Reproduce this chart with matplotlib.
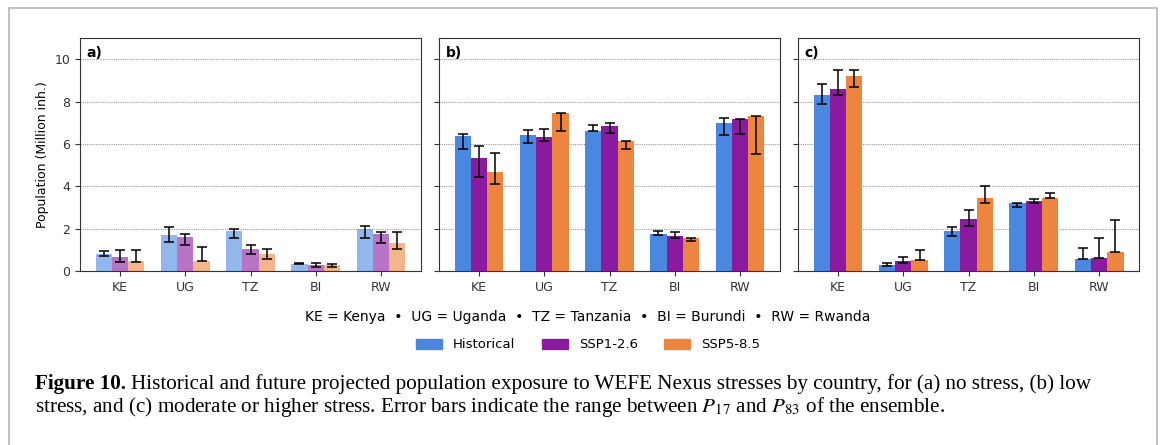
import numpy as np
import matplotlib.pyplot as plt
from matplotlib.patches import Rectangle, Patch

plt.rcParams['mathtext.fontset'] = 'stix'

countries = ["KE", "UG", "TZ", "BI", "RW"]
scenarios = ["Historical", "SSP1-2.6", "SSP5-8.5"]
colors = ["#4a87e0", "#8a1a9f", "#ec8540"]

# (a) no stress: value, P17, P83 per scenario
a_val = [[0.78, 1.72, 1.88, 0.35, 1.98],
         [0.66, 1.61, 1.06, 0.30, 1.77],
         [0.45, 0.45, 0.79, 0.27, 1.34]]
a_lo = [[0.71, 1.38, 1.58, 0.32, 1.58],
        [0.43, 1.22, 0.82, 0.19, 1.30],
        [0.43, 0.45, 0.59, 0.19, 1.06]]
a_hi = [[0.93, 2.09, 1.99, 0.40, 2.14],
        [1.01, 1.77, 1.25, 0.38, 1.85],
        [0.98, 1.14, 1.06, 0.35, 1.85]]

# (b) low stress
b_val = [[6.36, 6.41, 6.63, 1.74, 6.98],
         [5.33, 6.33, 6.84, 1.66, 7.17],
         [4.67, 7.44, 6.14, 1.55, 7.31]]
b_lo = [[5.76, 6.03, 6.63, 1.69, 6.41],
        [4.46, 6.16, 6.53, 1.55, 6.47],
        [4.10, 6.60, 5.78, 1.41, 5.54]]
b_hi = [[6.47, 6.66, 6.88, 1.88, 7.20],
        [5.92, 6.71, 7.01, 1.85, 7.17],
        [5.57, 7.44, 6.14, 1.58, 7.33]]

# (c) moderate or higher stress
c_val = [[8.31, 0.27, 1.90, 3.20, 0.57],
         [8.61, 0.47, 2.47, 3.31, 0.62],
         [9.21, 0.51, 3.45, 3.43, 0.89]]
c_lo = [[7.90, 0.25, 1.65, 3.01, 0.57],
        [8.29, 0.40, 2.14, 3.20, 0.62],
        [8.69, 0.51, 3.20, 3.43, 0.89]]
c_hi = [[8.84, 0.36, 2.10, 3.23, 1.09],
        [9.48, 0.65, 2.90, 3.39, 1.57],
        [9.49, 0.97, 4.03, 3.66, 2.42]]

panels = [("a)", a_val, a_lo, a_hi, 0.6),
          ("b)", b_val, b_lo, b_hi, 1.0),
          ("c)", c_val, c_lo, c_hi, 1.0)]

W, H = 1166, 445
fig = plt.figure(figsize=(W / 100, H / 100), dpi=100)

# outer frame of the figure box
fig.add_artist(Rectangle((8.5 / W, -0.1), 1148 / W, 1.1 - 8 / H,
                         transform=fig.transFigure, fill=False,
                         edgecolor="#b8b8b8", linewidth=1.2, clip_on=False))

x = np.arange(len(countries))
width = 0.25
lefts = [80, 439, 798]
axes = []
for i, (lab, val, lo, hi, alpha) in enumerate(panels):
    ax = fig.add_axes([lefts[i] / W, (H - 271) / H, 341 / W, 233 / H],
                      sharey=axes[0] if axes else None)
    axes.append(ax)
    for k in range(3):
        v = np.array(val[k])
        err = np.array([v - np.array(lo[k]), np.array(hi[k]) - v])
        ax.bar(x + (k - 1) * width, v, width, color=colors[k], alpha=alpha,
               yerr=err, capsize=3.5,
               error_kw=dict(elinewidth=1.1, capthick=1.1, ecolor="black"))
    ax.set_ylim(0, 11)
    ax.set_yticks([0, 2, 4, 6, 8, 10])
    ax.set_xticks(x)
    ax.set_xticklabels(countries)
    ax.yaxis.grid(True, linestyle=(0, (1, 1)), color="#999999", linewidth=0.8)
    ax.set_axisbelow(True)
    ax.tick_params(labelsize=9, colors="#333333")
    for s in ax.spines.values():
        s.set_color("#333333")
    ax.text(0.02, 0.965, lab, transform=ax.transAxes, fontsize=10,
            fontweight="bold", va="top", ha="left")
    if i > 0:
        ax.tick_params(labelleft=False)

axes[0].set_ylabel("Population (Million inh.)", fontsize=9)

fig.text(588 / W, 1 - 317 / H,
         "KE = Kenya  \u2022  UG = Uganda  \u2022  TZ = Tanzania  \u2022  BI = Burundi  \u2022  RW = Rwanda",
         ha="center", va="center", fontsize=10)
handles = [Patch(color=c) for c in colors]
fig.legend(handles, scenarios, loc="center", bbox_to_anchor=(588 / W, 1 - 345 / H),
           ncol=3, frameon=False, fontsize=9.5)

# caption
cap_font = "Liberation Serif"
cap_size = 15.2
fig.canvas.draw()
r = fig.canvas.get_renderer()
t1 = fig.text(35 / W, 1 - 389 / H, "Figure 10.", fontsize=cap_size, family=cap_font,
              fontweight="bold", va="baseline")
bb = t1.get_window_extent(renderer=r)
fig.text((bb.x1 + 5) / W, 1 - 389 / H,
         "Historical and future projected population exposure to WEFE Nexus stresses "
         "by country, for (a) no stress, (b) low",
         fontsize=cap_size, family=cap_font, va="baseline")
fig.text(35 / W, 1 - 412 / H,
         "stress, and (c) moderate or higher stress. Error bars indicate the range "
         "between $P_{17}$ and $P_{83}$ of the ensemble.",
         fontsize=cap_size, family=cap_font, va="baseline")

fig.savefig("out.png", dpi=100)
